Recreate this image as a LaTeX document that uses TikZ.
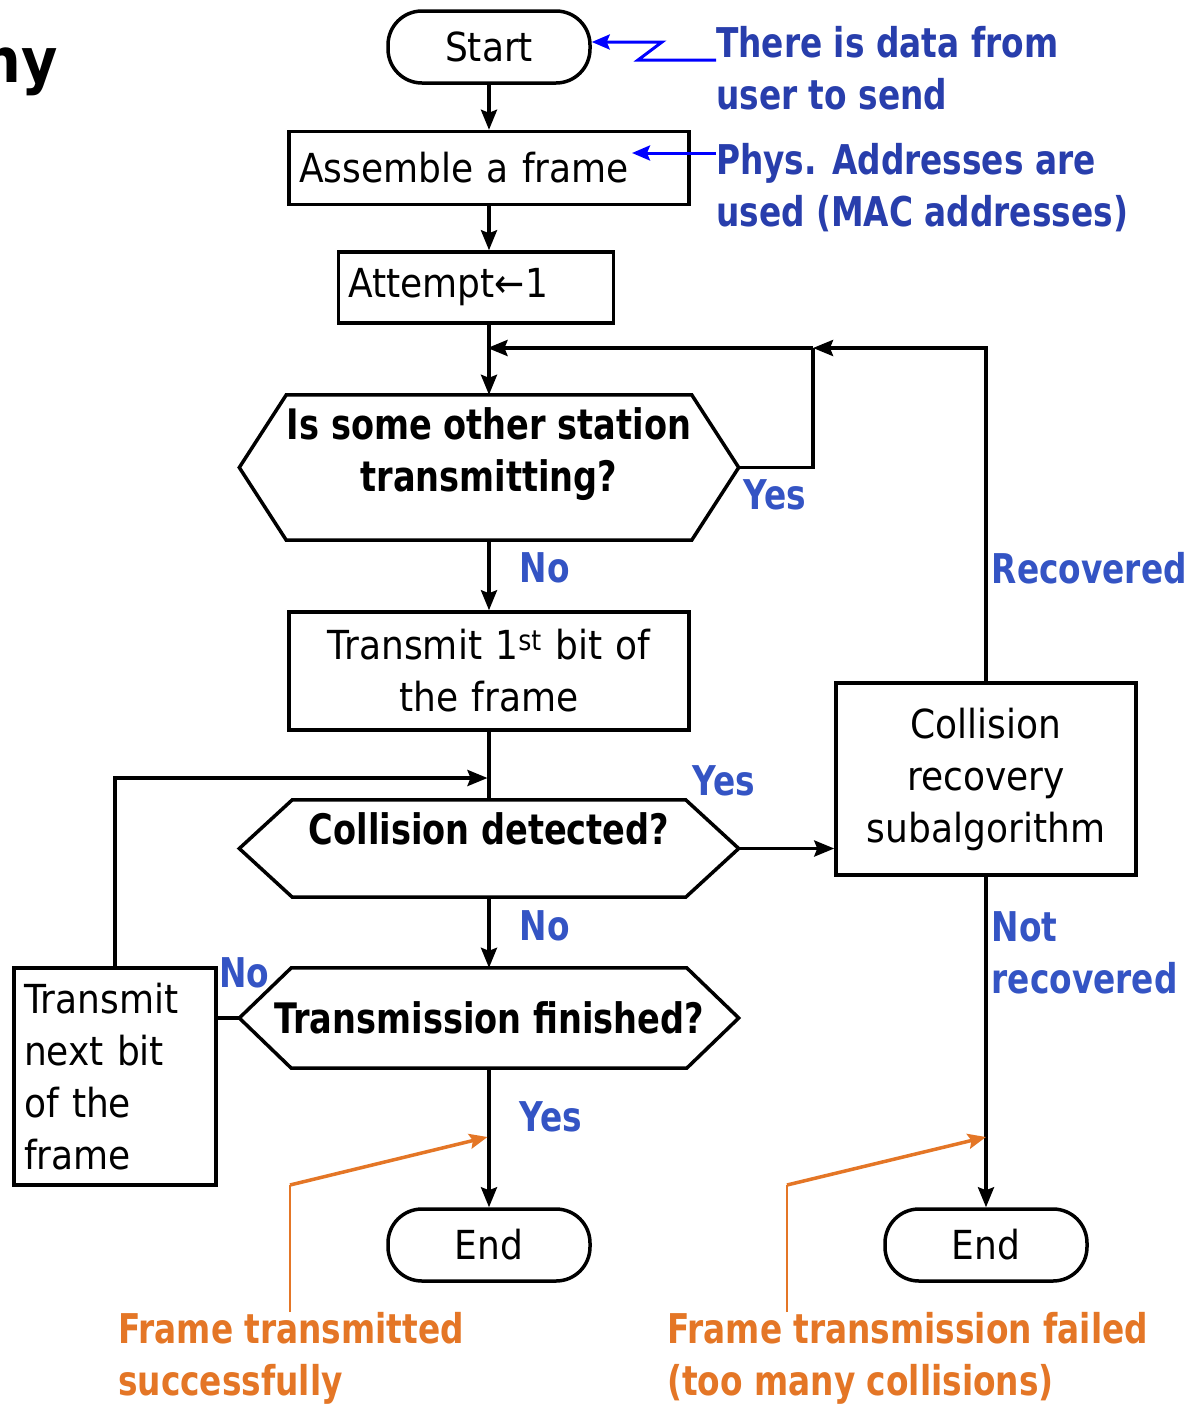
\documentclass[tikz,border=0pt]{standalone}
\usepackage{fontspec}
\setmainfont{DejaVu Sans}[FakeStretch=0.9]
\newfontfamily\lblfont{DejaVu Sans}[FakeStretch=0.8]
\usetikzlibrary{arrows.meta, positioning}
\definecolor{answerblue}{RGB}{52,84,196}
\definecolor{hintblue}{RGB}{40,62,172}
\definecolor{hintorange}{RGB}{228,118,38}
\tikzstyle{terminal} = [rectangle, rounded corners=34pt, draw, line width=3.5pt, minimum width=202pt, minimum height=72pt, font=\fontsize{40}{52}\selectfont]
\tikzstyle{process} = [rectangle, draw, line width=3.5pt, inner sep=10pt, font=\fontsize{40}{52}\selectfont]
\tikzstyle{decision} = [rectangle, minimum width=499pt, align=center, font=\lblfont\bfseries\fontsize{42}{52}\selectfont]
\tikzstyle{arrow} = [line width=3.5pt,->,>={Stealth[length=20pt,width=16pt,inset=3pt]}]
\tikzstyle{link} = [line width=3.5pt]
\tikzstyle{answer} = [inner sep=0pt, text=answerblue, font=\lblfont\bfseries\fontsize{41}{52}\selectfont]
\tikzstyle{hint} = [inner sep=0pt, align=left, font=\lblfont\bfseries\fontsize{41}{52}\selectfont]
\tikzstyle{hintarrow} = [line width=3pt, draw=blue, ->, >={Stealth[length=18pt,width=15pt,inset=3pt]}]
\tikzstyle{orangeline} = [line width=2pt, draw=hintorange]
\tikzstyle{orangearrow} = [line width=3.5pt, draw=hintorange, ->, >={Stealth[length=18pt,width=15pt,inset=3pt]}]
% hexagon drawn round a decision node: node name, width of the point
\newcommand{\hexframe}[2]{\draw[link] (#1.west) -- ([xshift=#2]#1.north west) -- ([xshift=-#2]#1.north east) -- (#1.east) -- ([xshift=-#2]#1.south east) -- ([xshift=#2]#1.south west) -- cycle;}

\begin{document}
\begin{tikzpicture}[x=1pt, y=-1pt, node distance=120pt]
    \fill[white] (0,0) rectangle (1188,1406);
    \useasboundingbox (0,0) rectangle (1188,1406);
    \node[anchor=base east, inner sep=0pt, font=\bfseries\fontsize{62}{62}\selectfont] (title) at (58,82) {ny};

    % main column
    \node[terminal] (start) at (489,47) {Start};
    \node[process, below of=start, node distance=121pt, minimum height=73pt, text width=380pt, align=left] (assemble) {Assemble a frame};
    \node[process, below of=assemble, node distance=119.5pt, xshift=-13pt, minimum height=71pt, text width=255pt, align=left] (attempt) {Attempt←1};
    \node[decision, below of=assemble, node distance=299.5pt, minimum height=145pt, text depth=35pt] (hex1) {Is some other station\\transmitting?};
    \node[process, below of=hex1, node distance=203.5pt, minimum height=118pt, text width=380pt, align=center] (tx1) {Transmit 1\textsuperscript{st} bit of\\the frame};
    \node[decision, below of=tx1, node distance=177.5pt, minimum height=97pt, text depth=39pt] (hex2) {Collision detected?};
    \node[decision, below of=hex2, node distance=169.5pt, minimum height=100pt] (hex3) {Transmission finished?};
    \node[terminal, below of=hex3, node distance=227pt] (end1) {End};

    % side boxes
    \node[process, minimum height=192pt, text width=280pt, align=center] (collision) at (986,779) {Collision\\recovery\\subalgorithm};
    \node[terminal, below of=collision, node distance=466pt] (end2) {End};
    \node[process, minimum height=217pt, text width=182pt, align=left] (txnext) at (115,1076.5) {Transmit\\next bit\\of the\\frame};

    \hexframe{hex1}{47pt}
    \hexframe{hex2}{53pt}
    \hexframe{hex3}{52pt}

    % notes
    \node[hint, text=hintblue, anchor=north west] (datanote) at (716,26) {There is data from\\user to send};
    \node[hint, text=hintblue, anchor=north west] (macnote) at (716,143) {Phys. Addresses are\\used (MAC addresses)};
    \node[hint, text=hintorange, anchor=north west] (okmsg) at (118,1312) {Frame transmitted\\successfully};
    \node[hint, text=hintorange, anchor=north west] (failmsg) at (667,1312) {Frame transmission failed\\(too many collisions)};

    \coordinate (join1) at (487.5,348);
    \coordinate (join2) at (813,348);
    \coordinate (join3) at (487.5,778);
    \coordinate (zlow) at (638,60);
    \coordinate (zhigh) at (662,42);
    \coordinate (frametip) at (632,153);
    \coordinate (okbend) at (290,1185);
    \coordinate (oktip) at (487.5,1137);
    \coordinate (failbend) at (787,1185);
    \coordinate (failtip) at (986,1137);

    % flow
    \draw[arrow] (start) -- (assemble);
    \draw[arrow] (assemble) -- (assemble |- attempt.north);
    \draw[arrow] (attempt.south -| hex1) -- (hex1.north);
    \draw[link] (hex1.east) -| node[answer, pos=0, anchor=north west, xshift=3pt, yshift=-10pt] {Yes} (join2);
    \draw[arrow] (join2) -- (join1);
    \draw[arrow] (hex1) -- node[answer, right=29pt, pos=0.4] {No} (tx1);
    \draw[link] (tx1) -- (hex2);
    \draw[arrow] (txnext.north) |- (join3);
    \draw[arrow] (hex2.east) -- node[answer, pos=0, anchor=south east, xshift=18pt, yshift=51pt] {Yes} (hex2.east -| collision.west);
    \draw[arrow] (hex2) -- node[answer, right=29pt, pos=0.4] {No} (hex3);
    \draw[link] (hex3.west) -- node[answer, pos=0, anchor=south, xshift=5pt, yshift=28pt] {No} (hex3.west -| txnext.east);
    \draw[arrow] (hex3) -- node[answer, right=29pt, pos=0.35] {Yes} (end1);
    \draw[arrow] (collision.north) |- node[answer, right=4pt, pos=0.17] {Recovered} (join2);
    \draw[arrow] (collision) -- node[answer, right=4pt, pos=0.23, align=left] {Not\\recovered} (end2);

    % note pointers
    \draw[hintarrow] (datanote.west |- zlow) -- (zlow) -- (zhigh) -- (zhigh -| start.east);
    \draw[hintarrow] (macnote.west |- frametip) -- (frametip);
    \draw[orangeline] (okmsg.north -| okbend) -- (okbend);
    \draw[orangearrow] (okbend) -- (oktip);
    \draw[orangeline] (failmsg.north -| failbend) -- (failbend);
    \draw[orangearrow] (failbend) -- (failtip);
\end{tikzpicture}
\end{document}
